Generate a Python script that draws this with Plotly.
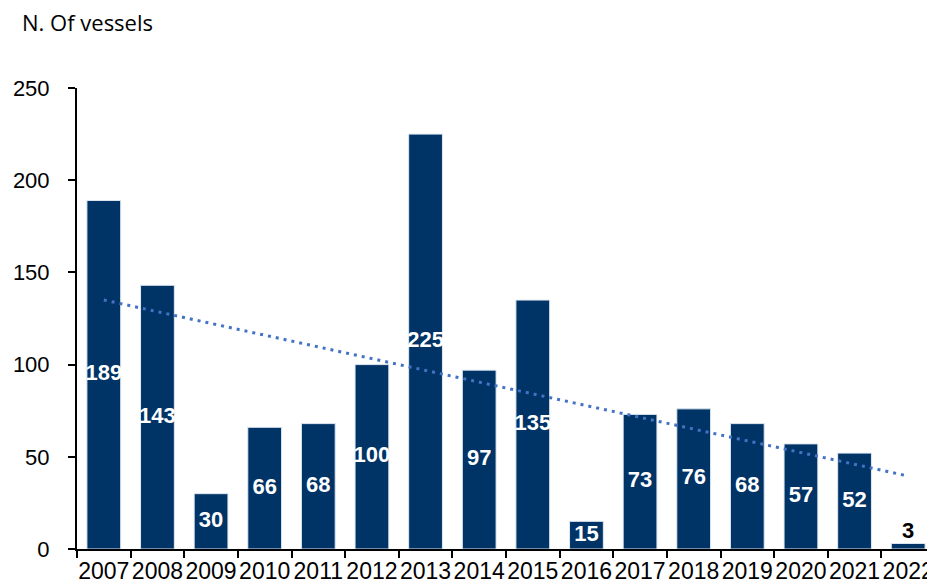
import numpy as np
import plotly.graph_objects as go

years = ["2007", "2008", "2009", "2010", "2011", "2012", "2013", "2014",
         "2015", "2016", "2017", "2018", "2019", "2020", "2021", "2022"]
vessels = [189, 143, 30, 66, 68, 100, 225, 97, 135, 15, 73, 76, 68, 57, 52, 3]
y_ticks = [0, 50, 100, 150, 200, 250]

# linear trendline (least squares) on the series
xi = np.arange(len(vessels))
slope, intercept = np.polyfit(xi, vessels, 1)
trend = slope * xi + intercept

fig = go.Figure()
fig.add_trace(go.Bar(
    x=years, y=vessels,
    marker=dict(color="#003366", line=dict(color="#dfe8f3", width=1)),
    hoverinfo="x+y",
))

# labels: inside (centred) for large bars, above for the tiny last one
inside_x = [y for y, v in zip(years, vessels) if v >= 10]
inside_y = [v / 2 for v in vessels if v >= 10]
inside_t = [str(v) for v in vessels if v >= 10]
out_x = [y for y, v in zip(years, vessels) if v < 10]
out_y = [v for v in vessels if v < 10]
out_t = [str(v) for v in vessels if v < 10]

fig.add_trace(go.Scatter(
    x=years, y=trend, mode="lines",
    line=dict(color="#4472C4", width=3, dash="3px,5px"),
    hoverinfo="skip",
))
fig.add_trace(go.Scatter(
    x=inside_x, y=inside_y, mode="text", text=inside_t,
    textposition="middle center",
    textfont=dict(family="Liberation Sans, Arial", size=22, color="white", weight="bold"),
    hoverinfo="skip",
))
fig.add_trace(go.Scatter(
    x=out_x, y=out_y, mode="text", text=out_t,
    textposition="top center",
    textfont=dict(family="Liberation Sans, Arial", size=22, color="black", weight="bold"),
    hoverinfo="skip",
))

fig.update_layout(
    width=927, height=578,
    margin=dict(l=69, r=0, t=80, b=37, autoexpand=False),
    plot_bgcolor="white", paper_bgcolor="white",
    showlegend=False,
    bargap=0.37,
    annotations=[dict(
        text="N. Of vessels", xref="paper", yref="paper",
        x=-57 / 858, y=1 + 66 / 461, xanchor="left", yanchor="middle",
        showarrow=False,
        font=dict(family="Open Sans, Noto Sans", size=22, color="black"),
    )],
)
fig.update_xaxes(
    type="category", automargin=False, tickangle=0,
    range=[-0.5, len(years) - 0.5],
    showline=True, linecolor="black", linewidth=2,
    ticks="outside", tickson="boundaries", ticklen=7, tickwidth=2, tickcolor="black",
    tickfont=dict(family="Liberation Sans, Arial", size=23, color="black"),
    showgrid=False, zeroline=False,
)
fig.update_yaxes(
    range=[0, 250], tickvals=y_ticks, automargin=False,
    showline=True, linecolor="black", linewidth=2,
    ticks="outside", ticklen=7, tickwidth=2, tickcolor="black",
    ticklabelstandoff=14,
    tickfont=dict(family="Liberation Sans, Arial", size=22, color="black"),
    showgrid=False, zeroline=False,
)

fig.write_html("out.html")
